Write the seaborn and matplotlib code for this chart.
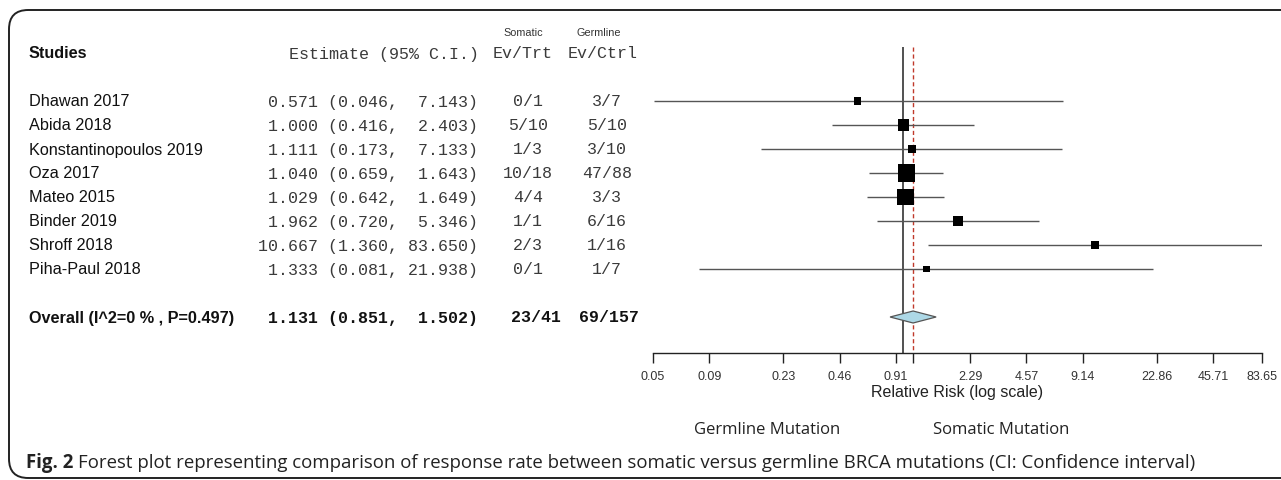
import numpy as np
import pandas as pd
import seaborn as sns
import matplotlib.pyplot as plt
from matplotlib.patches import FancyBboxPatch
from matplotlib.transforms import blended_transform_factory

# study level data (risk ratio somatic vs germline)
studies = ["Dhawan 2017", "Abida 2018", "Konstantinopoulos 2019", "Oza 2017",
           "Mateo 2015", "Binder 2019", "Shroff 2018", "Piha-Paul 2018"]
est = [0.571, 1.000, 1.111, 1.040, 1.029, 1.962, 10.667, 1.333]
ci_lo = [0.046, 0.416, 0.173, 0.659, 0.642, 0.720, 1.360, 0.081]
ci_hi = [7.143, 2.403, 7.133, 1.643, 1.649, 5.346, 83.650, 21.938]
ev_trt = ["0/1", "5/10", "1/3", "10/18", "4/4", "1/1", "2/3", "0/1"]
ev_ctrl = ["3/7", "5/10", "3/10", "47/88", "3/3", "6/16", "1/16", "1/7"]

overall_label = "Overall (I^2=0 % , P=0.497)"
overall_est, overall_lo, overall_hi = 1.131, 0.851, 1.502
overall_trt, overall_ctrl = "23/41", "69/157"

tick_vals = [0.04571, 0.09143, 0.2286, 0.4571, 0.9143, 2.2857, 4.5714,
             9.1429, 22.857, 45.714, 83.65]
tick_labels = ["0.05", "0.09", "0.23", "0.46", "0.91", "2.29", "4.57",
               "9.14", "22.86", "45.71", "83.65"]

W, H = 1281, 481
ROW0, STEP = 102, 24          # pixel y of first study row, row height
def row_of(py):
    return (py - ROW0) / STEP

SANS = "Liberation Sans"
MONO = "Liberation Mono"
CAP = "Open Sans"

fig = plt.figure(figsize=(W / 100, H / 100), dpi=100)
fig.patch.set_facecolor("white")

# table layer: x in pixels, y in row units
tab = fig.add_axes([0, 0, 1, 1])
tab.set_xlim(0, W)
tab.set_ylim(row_of(H), row_of(0))
tab.axis("off")

# forest layer
x0, x1 = 653, 1262
ax = fig.add_axes([x0 / W, 0, (x1 - x0) / W, 1])
ax.set_ylim(row_of(H), row_of(0))
ax.patch.set_alpha(0)

rows = np.arange(len(studies))
overall_row = len(studies) + 1

# --- table text
mono_col = "#3a3a3a"
name_fs = 11.7
tab.text(29, -2, "Studies", fontsize=name_fs, fontweight="bold", family=SANS,
         va="center", color="#111")
tab.text(289, -2, "Estimate (95% C.I.)", fontsize=12, family=MONO, va="center", color=mono_col)
tab.text(523, -2, "Ev/Trt", fontsize=12, family=MONO, va="center", ha="center", color=mono_col)
tab.text(603, -2, "Ev/Ctrl", fontsize=12, family=MONO, va="center", ha="center", color=mono_col)
tab.text(523, row_of(33), "Somatic", fontsize=7.8, family=SANS, va="center", ha="center", color="#333")
tab.text(599, row_of(33), "Germline", fontsize=7.8, family=SANS, va="center", ha="center", color="#333")

for r, name, e, l, h, t, c in zip(rows, studies, est, ci_lo, ci_hi, ev_trt, ev_ctrl):
    tab.text(29, r, name, fontsize=name_fs, family=SANS, va="center", color="#111")
    tab.text(258, r, f"{e:6.3f} ({l:5.3f}, {h:6.3f})", fontsize=12, family=MONO,
             va="center", color=mono_col)
    tab.text(528, r, t, fontsize=12, family=MONO, va="center", ha="center", color=mono_col)
    tab.text(607, r, c, fontsize=12, family=MONO, va="center", ha="center", color=mono_col)

tab.text(29, overall_row, overall_label, fontsize=name_fs, fontweight="bold", family=SANS,
         va="center", color="#111")
tab.text(258, overall_row, f"{overall_est:6.3f} ({overall_lo:5.3f}, {overall_hi:6.3f})",
         fontsize=12, fontweight="bold", family=MONO, va="center", color="#111")
tab.text(536, overall_row, overall_trt, fontsize=12, fontweight="bold", family=MONO,
         va="center", ha="center", color="#111")
tab.text(609, overall_row, overall_ctrl, fontsize=12, fontweight="bold", family=MONO,
         va="center", ha="center", color="#111")

# --- forest
axis_row = row_of(354)
top_row = row_of(48)
ax.vlines(1.0, top_row, axis_row, color="#222", lw=1.1)
ax.vlines(overall_est, top_row, axis_row, color="#c0392b", lw=1.0, linestyles=(0, (3, 2)))

ax.hlines(rows, ci_lo, ci_hi, color="#555", lw=1.0)

# square size from inverse-variance weight
se = (np.log(ci_hi) - np.log(ci_lo)) / 3.92
wts = 1 / se ** 2
side_px = 5 + 2.8 * np.sqrt(wts)
df = pd.DataFrame({"est": est, "row": rows, "s": (side_px * 0.72) ** 2})
sns.scatterplot(data=df, x="est", y="row", marker="s", s=df["s"].values,
                color="black", edgecolor="none", linewidth=0, ax=ax, zorder=3)

dh = row_of(108) - row_of(102)
ax.fill([overall_lo, overall_est, overall_hi, overall_est],
        [overall_row, overall_row - dh, overall_row, overall_row + dh],
        facecolor="#add8e6", edgecolor="#555", lw=0.9, zorder=3)

ax.set_xscale("log")
ax.set_xlim(tick_vals[0], tick_vals[-1])
ax.set_ylim(row_of(H), row_of(0))
ax.set_xlabel("")
ax.set_ylabel("")
for s in ["top", "right", "left"]:
    ax.spines[s].set_visible(False)
ax.spines["bottom"].set_position(("data", axis_row))
ax.spines["bottom"].set_bounds(tick_vals[0], tick_vals[-1])
ax.spines["bottom"].set_color("#222")
ax.spines["bottom"].set_linewidth(1.0)
ax.set_yticks([])
ax.set_xticks(tick_vals + [overall_est])
ax.set_xticklabels(tick_labels + [""])
ax.xaxis.set_minor_locator(plt.NullLocator())
ax.tick_params(axis="x", direction="out", length=7, width=1.0, color="#222",
               pad=5, labelsize=9, labelcolor="#333")
for lab in ax.get_xticklabels():
    lab.set_family(SANS)

bt = blended_transform_factory(ax.transAxes, ax.transData)
ax.text(0.5, row_of(393), "Relative Risk (log scale)", transform=bt, ha="center",
        va="center", fontsize=11.5, family=SANS, color="#222")

tab.text(767, row_of(430), "Germline Mutation", fontsize=12, family=CAP, ha="center",
         va="center", color="#222")
tab.text(1001, row_of(430), "Somatic Mutation", fontsize=12, family=CAP, ha="center",
         va="center", color="#222")

# caption
cap_fs = 13.4
cap_y = 1 - 463 / H
t1 = fig.text(26 / W, cap_y, "Fig. 2", fontsize=cap_fs, fontweight="bold", family=CAP,
              va="center", color="#222")
fig.canvas.draw()
bb = t1.get_window_extent()
fig.text((bb.x1 + 5) / W, cap_y,
         "Forest plot representing comparison of response rate between somatic versus "
         "germline BRCA mutations (CI: Confidence interval)",
         fontsize=cap_fs, family=CAP, va="center", color="#222")

# rounded frame
frame = FancyBboxPatch((9 / W, 1 - 479 / H), 1.2, (479 - 11) / H,
                       boxstyle="round,pad=0,rounding_size=0.015",
                       transform=fig.transFigure, fill=False, ec="#222", lw=1.4,
                       mutation_aspect=W / H)
fig.patches.append(frame)

fig.savefig("out.png", dpi=100)
